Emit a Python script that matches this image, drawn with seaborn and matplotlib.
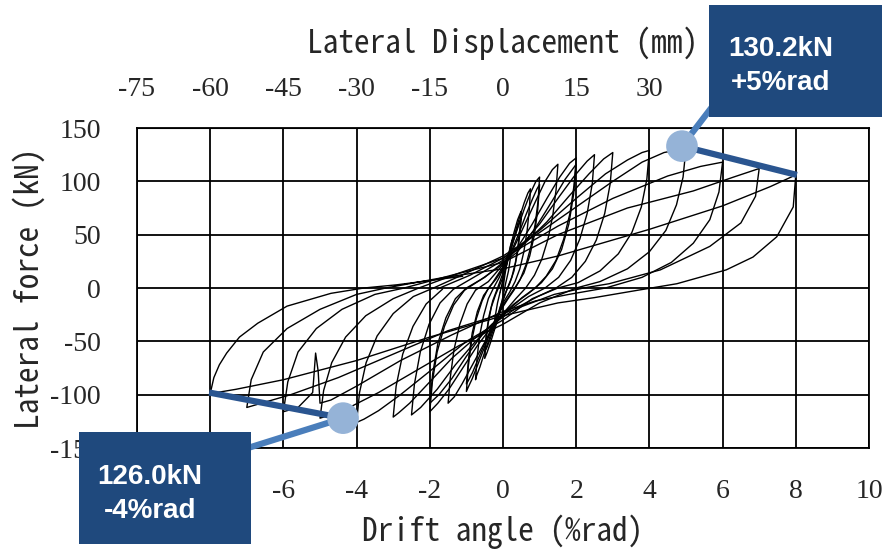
import numpy as np
import matplotlib
matplotlib.use("Agg")
import matplotlib.pyplot as plt
from matplotlib.patches import Rectangle
import seaborn as sns

# 层间位移角 (%rad) 与水平荷载 (kN)，按加载循环逐段读取
drift_a = [0, 0.06, 0.13, 0.2, 0.25, 0.22, 0.15, 0.07, 0, -0.07, -0.14, -0.2, -0.25, -0.22, -0.15, -0.08]
force_a = [0, 14, 28, 39, 45, 32, 16, 4, -8, -18, -28, -35, -40, -28, -14, -4]

drift_b = [-0.08, 0, 0.1, 0.2, 0.3, 0.4, 0.47, 0.5, 0.47, 0.42, 0.34, 0.24, 0.12, 0, -0.12, -0.24, -0.34, -0.43, -0.5, -0.47, -0.41, -0.32, -0.2, -0.1]
force_b = [-4, 8, 22, 38, 52, 64, 70, 72, 58, 42, 24, 10, 0, -12, -26, -40, -51, -60, -66, -52, -34, -18, -6, 2]

drift_b2 = [-0.1, 0, 0.12, 0.25, 0.37, 0.46, 0.5, 0.46, 0.39, 0.3, 0.18, 0.05, -0.08, -0.2, -0.32, -0.43, -0.5, -0.46, -0.38, -0.28, -0.16]
force_b2 = [2, 10, 24, 40, 54, 63, 66, 50, 32, 16, 4, -6, -18, -32, -45, -55, -60, -44, -26, -12, -1]

drift_c = [-0.16, 0, 0.15, 0.3, 0.45, 0.58, 0.68, 0.75, 0.72, 0.66, 0.57, 0.46, 0.33, 0.18, 0, -0.18, -0.35, -0.5, -0.63, -0.72, -0.75, -0.71, -0.64, -0.53, -0.4, -0.26]
force_c = [-1, 14, 30, 48, 66, 80, 89, 93, 74, 54, 34, 18, 6, -4, -14, -28, -45, -60, -74, -82, -86, -66, -45, -26, -10, 0]

drift_d = [-0.26, -0.1, 0.05, 0.22, 0.4, 0.58, 0.75, 0.9, 1.0, 0.96, 0.88, 0.77, 0.63, 0.47, 0.3, 0.12, -0.08, -0.3, -0.5, -0.68, -0.84, -0.95, -1.0, -0.95, -0.86, -0.73, -0.57, -0.4]
force_d = [0, 10, 22, 38, 56, 74, 89, 100, 104, 82, 60, 40, 22, 8, -2, -11, -22, -38, -55, -71, -85, -93, -97, -74, -50, -29, -12, 0]

drift_d2 = [-0.4, -0.2, 0, 0.2, 0.42, 0.62, 0.8, 0.93, 1.0, 0.95, 0.86, 0.73, 0.57, 0.38, 0.18, 0, -0.22, -0.45, -0.66, -0.83, -0.95, -1.0, -0.94, -0.84, -0.7, -0.53]
force_d2 = [0, 8, 18, 32, 50, 68, 83, 93, 97, 74, 50, 30, 14, 3, -7, -16, -30, -48, -65, -79, -87, -90, -66, -42, -22, -7]

drift_e = [-0.53, -0.3, 0, 0.3, 0.6, 0.9, 1.15, 1.35, 1.5, 1.45, 1.36, 1.23, 1.06, 0.86, 0.62, 0.35, 0.05, -0.25, -0.55, -0.85, -1.12, -1.33, -1.5, -1.44, -1.34, -1.18, -0.98, -0.75]
force_e = [-7, 4, 20, 38, 60, 82, 100, 111, 116, 92, 68, 46, 27, 12, 0, -10, -22, -36, -54, -73, -90, -102, -108, -84, -58, -34, -15, -2]

drift_f = [-0.75, -0.4, 0, 0.4, 0.8, 1.2, 1.55, 1.82, 2.0, 1.94, 1.83, 1.66, 1.45, 1.18, 0.88, 0.52, 0.1, -0.3, -0.7, -1.1, -1.48, -1.78, -2.0, -1.93, -1.8, -1.6, -1.35, -1.05]
force_f = [-2, 6, 22, 38, 60, 84, 104, 117, 122, 96, 70, 46, 26, 11, 0, -9, -22, -36, -54, -75, -95, -108, -116, -88, -60, -36, -16, -2]

drift_f2 = [-1.05, -0.6, -0.1, 0.4, 0.9, 1.35, 1.7, 2.0, 1.93, 1.8, 1.6, 1.35, 1.05, 0.7, 0.3, -0.1, -0.55, -1.0, -1.4, -1.75, -2.0, -1.92, -1.78, -1.56, -1.3, -1.0]
force_f2 = [-2, 8, 20, 34, 57, 82, 102, 116, 88, 60, 36, 18, 5, -5, -15, -27, -43, -64, -85, -100, -108, -80, -52, -28, -10, 0]

drift_g = [-1.0, -0.5, 0, 0.5, 1.0, 1.5, 1.95, 2.3, 2.5, 2.44, 2.3, 2.1, 1.85, 1.52, 1.15, 0.7, 0.2, -0.3, -0.8, -1.3, -1.8, -2.25, -2.5, -2.42, -2.26, -2.02, -1.72, -1.35]
force_g = [0, 10, 24, 40, 60, 84, 105, 119, 125, 98, 70, 46, 26, 10, 0, -8, -20, -34, -52, -72, -95, -112, -119, -90, -60, -34, -14, -1]

drift_h = [-1.35, -0.7, 0, 0.6, 1.2, 1.8, 2.35, 2.75, 3.0, 2.93, 2.78, 2.55, 2.25, 1.88, 1.45, 0.95, 0.4, -0.2, -0.8, -1.4, -2.0, -2.55, -2.85, -3.0, -2.92, -2.74, -2.46, -2.1, -1.65]
force_h = [-1, 12, 26, 42, 62, 86, 107, 121, 127, 98, 70, 45, 25, 10, 0, -8, -18, -32, -48, -66, -88, -108, -117, -121, -92, -62, -36, -15, -1]

drift_i = [-1.8, -0.9, 0, 1.0, 2.0, 2.8, 3.4, 3.8, 4.0, 3.93, 3.78, 3.52, 3.15, 2.65, 2.05, 1.5, 0.8, 0, -1.0, -2.0, -2.8, -3.4, -3.8, -4.0, -3.92, -3.74, -3.44, -3.0, -2.45, -1.9]
force_i = [-1, 12, 28, 54, 84, 107, 120, 127, 129, 102, 76, 52, 32, 16, 5, 0, -10, -30, -50, -78, -100, -115, -123, -126, -98, -70, -45, -24, -8, 0]

drift_j = [-1.9, -1.0, 0, 1.0, 2.0, 3.0, 3.8, 4.4, 5.0, 4.92, 4.74, 4.45, 4.0, 3.4, 2.65, 2.0, 1.0, 0, -1.2, -2.4, -3.4, -4.2, -4.7, -5.0, -4.9, -4.68, -4.3, -3.75, -3.0, -2.3]
force_j = [0, 14, 30, 52, 76, 100, 118, 127, 131, 104, 78, 54, 34, 18, 6, 0, -14, -34, -54, -78, -98, -112, -119, -122, -96, -70, -46, -26, -10, 0]

drift_k = [-2.3, -1.2, 0, 1.5, 3.0, 4.5, 5.4, 6.0, 5.9, 5.65, 5.2, 4.6, 3.8, 2.8, 1.8, 0.9, 0, -1.4, -2.8, -4.0, -4.7, -5.0, -5.05, -5.12, -5.2, -5.6, -6.0, -5.88, -5.6, -5.1, -4.4, -3.5, -2.7]
force_k = [0, 14, 28, 58, 84, 105, 114, 118, 90, 64, 42, 24, 10, 0, -6, -12, -22, -44, -68, -92, -105, -108, -78, -61, -98, -112, -116, -88, -60, -38, -20, -6, 0]

drift_l = [-2.7, -1.4, 0, 1.5, 3.4, 5.2, 6.3, 7.0, 6.9, 6.5, 5.65, 4.3, 2.9, 2.2, 1.4, 0, -1.5, -3.0, -4.5, -5.8, -6.6, -7.0, -6.88, -6.55, -5.9, -5.0, -4.0, -3.2]
force_l = [0, 12, 24, 50, 75, 91, 104, 112, 86, 61, 39, 17, 4, 0, -6, -24, -40, -62, -84, -100, -108, -112, -86, -60, -38, -20, -6, 0]

drift_m = [-3.2, -1.6, 0, 1.5, 4.0, 6.0, 7.3, 8.0, 7.93, 7.48, 6.83, 6.1, 4.75, 3.7, 2.5, 1.5, 0, -2.0, -4.0, -6.0, -7.3, -8.0, -7.9, -7.75, -7.55, -7.2, -6.7, -5.9, -4.7, -3.8, -2.9, -1.1]
force_m = [0, 10, 18, 30, 55, 77, 95, 106, 76, 48, 29, 17, 4, -2, -9, -14, -26, -46, -68, -86, -95, -99, -84, -72, -61, -46, -33, -17, -5, 0, 3, 11]

cycles = [(drift_a, force_a), (drift_b, force_b), (drift_b2, force_b2),
          (drift_c, force_c), (drift_d, force_d), (drift_d2, force_d2),
          (drift_e, force_e), (drift_f, force_f), (drift_f2, force_f2),
          (drift_g, force_g), (drift_h, force_h), (drift_i, force_i),
          (drift_j, force_j), (drift_k, force_k), (drift_l, force_l),
          (drift_m, force_m)]

# 峰值标注
peak_pos = (4.89, 133)
peak_pos_end = (8.03, 106)
peak_pos_box = (5.85, 176)
peak_neg = (-4.37, -122)
peak_neg_end = (-8.03, -98)
peak_neg_box = (-6.97, -150)
label_pos = "130.2kN\n+5%rad"
label_neg = "126.0kN\n-4%rad"

x_ticks = np.arange(-10, 11, 2)
y_ticks = np.arange(-150, 151, 50)
top_ticks = np.arange(-75, 76, 15)
# 被标注框遮住的刻度
x_hidden = [-10, -8]
top_hidden = [45, 60]

sns.set_style("white")
plt.rcParams["axes.unicode_minus"] = False

fig = plt.figure(figsize=(8.89, 5.52), dpi=100)
ax = fig.add_axes([137 / 889, 1 - 448 / 552, 732 / 889, 320 / 552])

for dx, fy in cycles:
    sns.lineplot(x=dx, y=fy, sort=False, estimator=None, color="black",
                 lw=1.0, ax=ax, zorder=3)

ax.set_xlim(-10, 10)
ax.set_ylim(-150, 150)
ax.set_xticks(x_ticks)
ax.set_yticks(y_ticks)
ax.grid(True, color="black", lw=1.3)
for s in ax.spines.values():
    s.set_color("black")
    s.set_linewidth(1.3)

serif = {"family": "Liberation Serif", "size": 20}
mono = ["Noto Sans Mono CJK JP", "DejaVu Sans Mono"]
ax.set_xticklabels(["" if v in x_hidden else str(v) for v in x_ticks], fontdict=serif)
ax.set_yticklabels([str(v) for v in y_ticks], fontdict=serif)
ax.tick_params(axis="both", length=0)
ax.tick_params(axis="x", pad=22)
ax.tick_params(axis="y", pad=26)
ax.set_xlabel("Drift angle (%rad)", family=mono, size=22.5, labelpad=8)
ax.set_ylabel("Lateral force (kN)", family=mono, size=22.5, labelpad=3)

secax = ax.secondary_xaxis("top", functions=(lambda x: x * 7.5, lambda x: x / 7.5))
secax.set_xticks(top_ticks)
secax.set_xticklabels(["" if v in top_hidden else str(v) for v in top_ticks], fontdict=serif)
secax.tick_params(length=0, pad=19)
secax.set_xlabel("Lateral Displacement (mm)", family=mono, size=22.5, labelpad=17)

# 引线与圆点
dark = "#2A5590"
light = "#4A7EBB"
ax.plot([peak_pos[0], peak_pos_end[0]], [peak_pos[1], peak_pos_end[1]],
        color=dark, lw=4.5, solid_capstyle="butt", zorder=6, clip_on=False)
ax.plot([peak_pos[0], peak_pos_box[0]], [peak_pos[1], peak_pos_box[1]],
        color=light, lw=4.5, solid_capstyle="butt", zorder=6, clip_on=False)
ax.plot([peak_neg[0], peak_neg_end[0]], [peak_neg[1], peak_neg_end[1]],
        color=dark, lw=4.5, solid_capstyle="butt", zorder=6, clip_on=False)
ax.plot([peak_neg[0], peak_neg_box[0]], [peak_neg[1], peak_neg_box[1]],
        color=light, lw=4.5, solid_capstyle="butt", zorder=6, clip_on=False)
sns.scatterplot(x=[peak_pos[0], peak_neg[0]], y=[peak_pos[1], peak_neg[1]],
                s=520, color="#95B3D7", edgecolor="none", ax=ax, zorder=7,
                clip_on=False)

# 标注框
box_col = "#1F497D"
for (x0, y0, w, h), txt, tx, ty in [((709, 5, 173, 112), label_pos, 781, 66),
                                     ((79, 432, 172, 112), label_neg, 150, 494)]:
    fig.add_artist(Rectangle((x0 / 889, 1 - (y0 + h) / 552), w / 889, h / 552,
                             transform=fig.transFigure, facecolor=box_col,
                             edgecolor="none", zorder=10))
    fig.text(tx / 889, 1 - ty / 552, txt, color="white", weight="bold",
             family="Liberation Sans", size=20, ha="center", va="center",
             linespacing=1.4, zorder=11)

fig.savefig("out.png", dpi=100)
